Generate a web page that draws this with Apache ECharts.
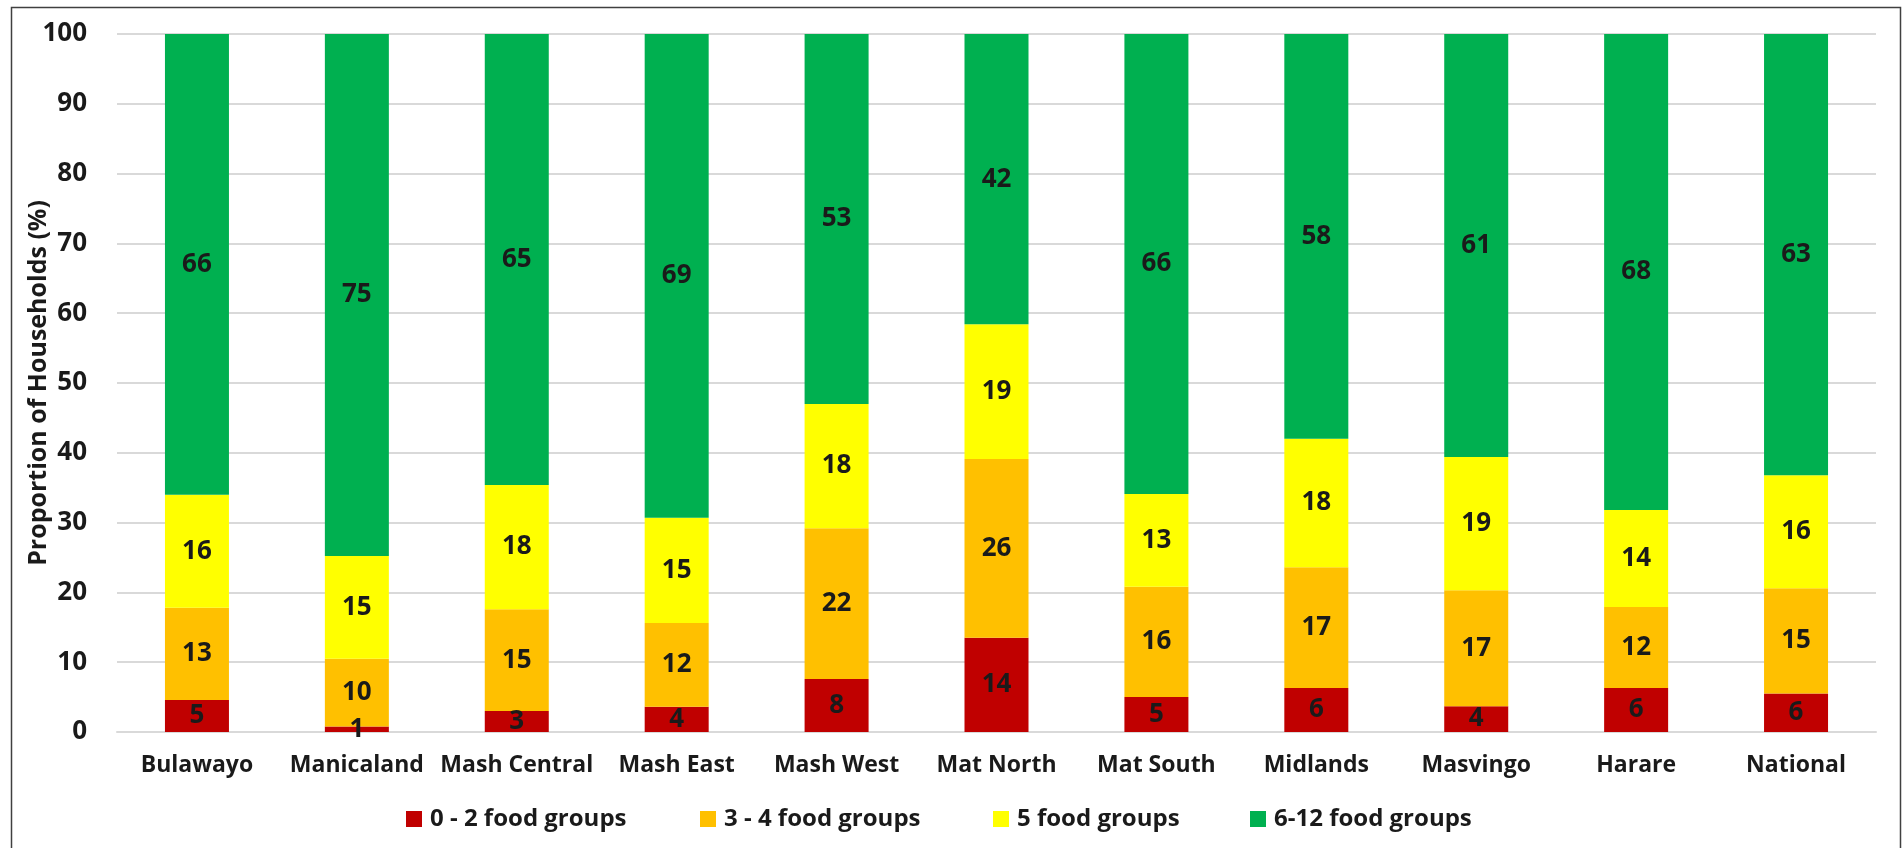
<!DOCTYPE html>
<html>
<head>
<meta charset="utf-8">
<script src="https://cdn.jsdelivr.net/npm/echarts@6/dist/echarts.min.js"></script>
<style>
html,body{margin:0;padding:0;background:#fff;}
#chart{width:1904px;height:848px;}
</style>
</head>
<body>
<div id="chart"></div>
<script>
// regions along the x axis
var categories=['Bulawayo','Manicaland','Mash Central','Mash East','Mash West','Mat North','Mat South','Midlands','Masvingo','Harare','National'];
// share of households (%) by number of food groups
var fg0to2=[4.6,0.8,3.0,3.6,7.6,13.5,5.0,6.3,3.7,6.3,5.5];
var fg3to4=[13.2,9.7,14.6,12.0,21.6,25.6,15.8,17.3,16.6,11.6,15.1];
var fg5=[16.2,14.7,17.8,15.1,17.8,19.3,13.3,18.4,19.1,13.9,16.2];
var fg6to12=[66.0,74.8,64.6,69.3,53.0,41.6,65.9,58.0,60.6,68.2,63.2];
var seriesNames=['0 - 2 food groups','3 - 4 food groups','5 food groups','6-12 food groups'];
var yTicks=[0,10,20,30,40,50,60,70,80,90,100];

var FONT='"Open Sans", "Liberation Sans", sans-serif';
var TXT='#1a1a1a';

var myChart=echarts.init(document.getElementById('chart'));

function mkSeries(name,data,color){
	return {
		name:name,
		type:'bar',
		stack:'total',
		barWidth:64,
		data:data,
		itemStyle:{color:color},
		label:{
			show:true,
			position:'inside',
			color:TXT,
			fontFamily:FONT,
			fontWeight:'bold',
			fontSize:26,
			formatter:function(p){return Math.round(p.value);}
		}
	};
}

function mkLegend(name,left){
	return {
		data:[name],
		left:left,
		top:802,
		itemWidth:16,
		itemHeight:16,
		itemGap:8,
		icon:'rect',
		textStyle:{color:TXT,fontFamily:FONT,fontWeight:'bold',fontSize:24,padding:[0,0,0,3]}
	};
}

var option={
	animation:false,
	backgroundColor:'#fff',
	legend:[
		mkLegend(seriesNames[0],401),
		mkLegend(seriesNames[1],695),
		mkLegend(seriesNames[2],988),
		mkLegend(seriesNames[3],1245)
	],
	grid:{left:117,right:28,top:34,bottom:116,containLabel:false},
	xAxis:{
		type:'category',
		data:categories,
		axisLine:{show:true,lineStyle:{color:'#d9d9d9',width:2}},
		axisTick:{show:false},
		axisLabel:{interval:0,color:TXT,fontFamily:FONT,fontWeight:'bold',fontSize:23,margin:22}
	},
	yAxis:{
		type:'value',
		min:yTicks[0],
		max:yTicks[yTicks.length-1],
		interval:10,
		name:'Proportion of Households (%)',
		nameLocation:'middle',
		nameGap:66,
		nameMoveOverlap:false,
		nameTextStyle:{color:TXT,fontFamily:FONT,fontWeight:'bold',fontSize:25},
		axisLine:{show:false},
		axisTick:{show:false},
		splitLine:{lineStyle:{color:'#d9d9d9',width:2}},
		axisLabel:{color:TXT,fontFamily:FONT,fontWeight:'bold',fontSize:26,margin:30}
	},
	graphic:[{
		type:'rect',
		shape:{x:11.5,y:7.5,width:1889,height:900},
		style:{fill:null,stroke:'#404040',lineWidth:1.5},
		silent:true,
		z:-1
	}],
	series:[
		mkSeries(seriesNames[0],fg0to2,'#C00000'),
		mkSeries(seriesNames[1],fg3to4,'#FFC000'),
		mkSeries(seriesNames[2],fg5,'#FFFF00'),
		mkSeries(seriesNames[3],fg6to12,'#00B050')
	]
};
myChart.setOption(option);
</script>
</body>
</html>
